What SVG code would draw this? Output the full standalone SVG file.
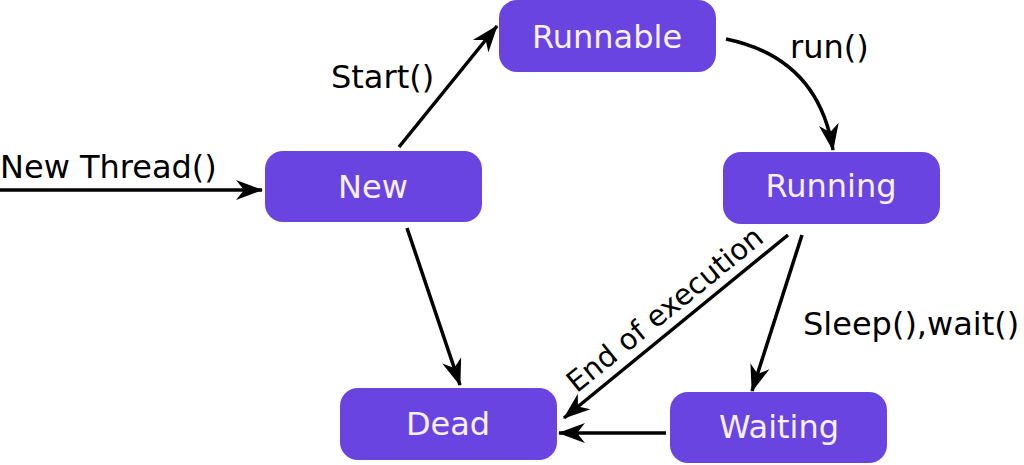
<svg xmlns="http://www.w3.org/2000/svg" width="1024" height="465" viewBox="0 0 1024 465">
<style>
.node rect{fill:#6a44e0;}
.node text{fill:#f6f0ff;font-family:"DejaVu Sans",sans-serif;font-size:32px;text-anchor:middle;}
.lbl{fill:#000;font-family:"DejaVu Sans",sans-serif;font-size:32px;}
.edge{stroke:#000;stroke-width:3.5;fill:none;marker-end:url(#arr);}
</style>
<defs>
<marker id="arr" markerUnits="userSpaceOnUse" markerWidth="28" markerHeight="22" viewBox="0 0 28 22" refX="26" refY="11" orient="auto">
<path d="M0,1 L27,11 L0,21 L8,11 z" fill="#000"/>
</marker>
</defs>
<rect width="1024" height="465" fill="#fff"/>
<g id="connectors">
<line class="edge" x1="0" y1="190" x2="262" y2="190"/>
<line class="edge" x1="399" y1="147" x2="497" y2="26"/>
<path class="edge" d="M726,39 Q818,58 833,150"/>
<line class="edge" x1="407" y1="228" x2="460" y2="385"/>
<line class="edge" x1="788" y1="235" x2="564" y2="418"/>
<line class="edge" x1="802" y1="235" x2="752" y2="391"/>
<line class="edge" x1="666" y1="433" x2="559" y2="433"/>
<text class="lbl" x="0" y="178">New Thread()</text>
<text class="lbl" x="331" y="88">Start()</text>
<text class="lbl" x="790" y="58">run()</text>
<text class="lbl" x="803" y="335">Sleep(),wait()</text>
<text class="lbl" x="671" y="317" style="font-size:29px;text-anchor:middle" transform="rotate(-39 671 317)">End of execution</text>
</g>
<g id="runnable" class="node"><rect x="499" y="0" width="217" height="72" rx="18"/><text x="607" y="48">Runnable</text></g>
<g id="new" class="node"><rect x="265" y="151" width="217" height="71" rx="18"/><text x="373" y="198">New</text></g>
<g id="running" class="node"><rect x="723" y="152" width="217" height="72" rx="18"/><text x="831" y="197">Running</text></g>
<g id="dead" class="node"><rect x="340" y="388" width="217" height="72" rx="18"/><text x="448" y="435">Dead</text></g>
<g id="waiting" class="node"><rect x="670" y="392" width="217" height="71" rx="18"/><text x="779" y="438">Waiting</text></g>
</svg>
